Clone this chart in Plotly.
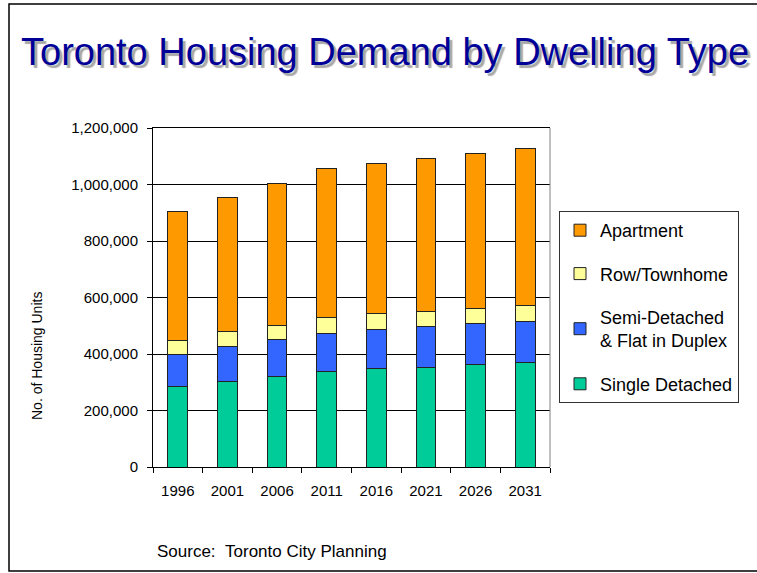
import plotly.graph_objects as go

years = ["1996", "2001", "2006", "2011", "2016", "2021", "2026", "2031"]
single_detached = [284000, 303000, 322000, 339000, 347000, 354000, 363000, 371000]
semi_detached = [116000, 124000, 129000, 135000, 140000, 144000, 144000, 143000]
row_townhome = [48000, 52000, 51000, 56000, 55000, 53000, 55000, 58000]
apartment = [457000, 476000, 502000, 525000, 533000, 542000, 547000, 556000]

series = [
    ("Single Detached", single_detached, "#00CC99"),
    ("Semi-Detached<br>& Flat in Duplex", semi_detached, "#3366FF"),
    ("Row/Townhome", row_townhome, "#FFFF99"),
    ("Apartment", apartment, "#FF9900"),
]

FONT = "Liberation Sans, Arial, sans-serif"

fig = go.Figure()
n = len(series)
for i, (name, vals, col) in enumerate(series):
    fig.add_trace(go.Bar(
        x=years, y=vals, name=name, legendgroup=f"g{i}", legendrank=100 * (n - i),
        marker=dict(color=col, line=dict(color="#222222", width=1)),
    ))

W, H = 757, 573
L, R, T, B = 153, 207, 128, 106
pw, ph = W - L - R, H - T - B

def px(x):
    return (x - L) / pw

def py(y):
    return (H - B - y) / ph

fig.update_layout(
    width=W, height=H,
    margin=dict(l=L, r=R, t=T, b=B, pad=0),
    barmode="stack", bargap=0.6,
    plot_bgcolor="white", paper_bgcolor="white",
    font=dict(family=FONT, color="black"),
    showlegend=True,
    legend=dict(
        x=px(559), y=py(211), xanchor="left", yanchor="top",
        bordercolor="#333333", borderwidth=1, bgcolor="white",
        font=dict(family=FONT, size=18, color="black"),
        traceorder="grouped", tracegroupgap=17,
    ),
    xaxis=dict(
        type="category", showgrid=False, showline=True, linecolor="black",
        linewidth=1, mirror=True, ticks="outside", tickson="boundaries",
        ticklen=5, tickcolor="black", ticklabelstandoff=10,
        tickfont=dict(family=FONT, size=15, color="black"),
    ),
    yaxis=dict(
        range=[0, 1200000], dtick=200000, tickformat=",d",
        showgrid=True, gridcolor="black", gridwidth=1,
        showline=True, linecolor="black", linewidth=1,
        ticks="outside", ticklen=5, tickcolor="black", ticklabelstandoff=6,
        tickfont=dict(family=FONT, size=15, color="black"),
        zeroline=False,
    ),
)

# right border of the plot area (gray)
fig.add_shape(type="line", xref="paper", yref="paper", x0=1, x1=1, y0=0, y1=1,
              line=dict(color="#808080", width=1))

# outer frame
fig.add_shape(type="rect", xref="paper", yref="paper",
              x0=px(9), x1=px(775), y0=py(571), y1=py(4),
              line=dict(color="black", width=1.5), layer="above")

title = "Toronto Housing Demand by Dwelling Type"
fig.add_annotation(text=title, xref="paper", yref="paper", x=px(385), y=py(52),
                   xanchor="center", yanchor="middle", showarrow=False,
                   font=dict(family=FONT, size=38, color="#000099",
                             shadow="3px 3px 1px #A8A8A8"))

# y axis title
fig.add_annotation(text="No. of Housing Units", xref="paper", yref="paper",
                   x=px(37), y=py(356), xanchor="center", yanchor="middle",
                   textangle=-90, showarrow=False,
                   font=dict(family=FONT, size=14, color="black"))

# source
fig.add_annotation(text="Source:&nbsp;&nbsp;Toronto City Planning", xref="paper", yref="paper",
                   x=px(155), y=py(551), xanchor="left", yanchor="middle",
                   showarrow=False, font=dict(family=FONT, size=17, color="black"))

fig.write_html("out.html", config={"displayModeBar": False},
               post_script="document.body.style.margin='0px';")
